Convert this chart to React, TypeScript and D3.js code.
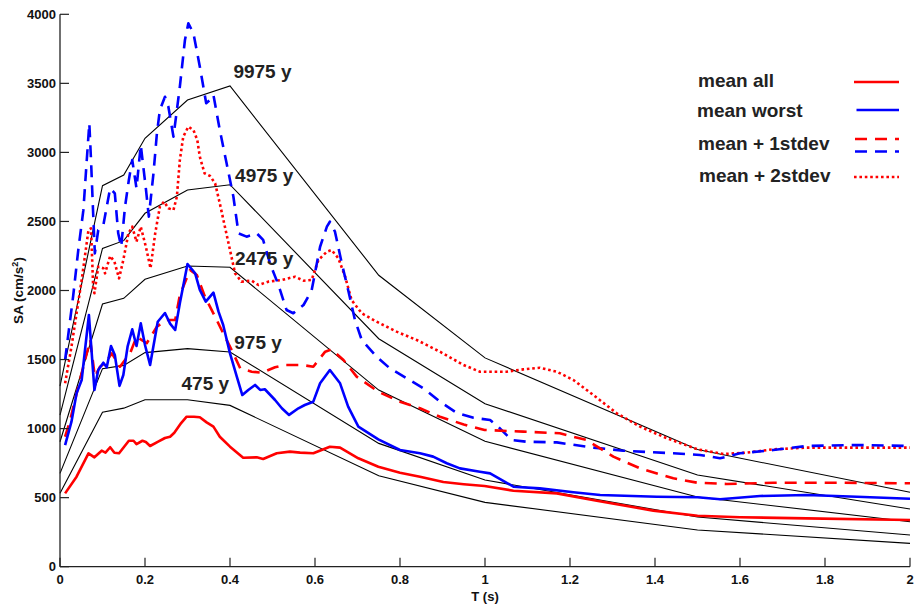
import React from "react";
import * as d3 from "d3";

// ---- Hazard (uniform hazard spectra) lines ----
const uhsT = [0, 0.1, 0.15, 0.2, 0.3, 0.4, 0.75, 1.0, 1.5, 2.0];
const uhs475 = [531, 1118, 1148, 1209, 1209, 1168, 659, 466, 266, 169];
const uhs975 = [676, 1434, 1458, 1550, 1579, 1555, 893, 628, 360, 229];
const uhs2475 = [905, 1902, 1943, 2081, 2177, 2168, 1279, 908, 505, 326];
const uhs4975 = [1098, 2305, 2361, 2559, 2728, 2766, 1651, 1180, 664, 418];
const uhs9975 = [1308, 2759, 2836, 3102, 3379, 3481, 2110, 1512, 848, 539];
const uhsLabels = ["475 y", "975 y", "2475 y", "4975 y", "9975 y"];

// ---- mean all (red solid) ----
const meanAllT = [0.012, 0.039, 0.067, 0.081, 0.098, 0.107, 0.118, 0.128, 0.139, 0.162, 0.173, 0.18, 0.194, 0.202, 0.212, 0.231, 0.247, 0.259, 0.269, 0.285, 0.298, 0.315, 0.329, 0.345, 0.361, 0.376, 0.4, 0.431, 0.463, 0.478, 0.51, 0.541, 0.565, 0.596, 0.635, 0.659, 0.702, 0.749, 0.8, 0.847, 0.902, 0.95, 0.999, 1.067, 1.169, 1.263, 1.396, 1.5, 1.6, 1.757, 2.0];
const meanAllSA = [531, 652, 821, 792, 840, 826, 865, 825, 821, 912, 912, 888, 912, 903, 874, 905, 932, 941, 970, 1040, 1086, 1086, 1082, 1045, 1014, 941, 869, 789, 792, 780, 821, 833, 826, 821, 869, 862, 785, 724, 681, 652, 613, 597, 584, 550, 531, 478, 406, 369, 358, 350, 338];

// ---- mean worst (blue solid) ----
const meanWorstT = [0.012, 0.027, 0.039, 0.051, 0.068, 0.081, 0.09, 0.102, 0.11, 0.12, 0.129, 0.14, 0.149, 0.159, 0.17, 0.18, 0.19, 0.2, 0.212, 0.23, 0.247, 0.259, 0.271, 0.282, 0.3, 0.318, 0.329, 0.343, 0.361, 0.373, 0.384, 0.4, 0.416, 0.429, 0.443, 0.459, 0.471, 0.482, 0.506, 0.522, 0.539, 0.561, 0.576, 0.596, 0.612, 0.635, 0.659, 0.678, 0.702, 0.749, 0.8, 0.847, 0.878, 0.91, 0.941, 0.988, 1.012, 1.067, 1.129, 1.208, 1.271, 1.404, 1.5, 1.553, 1.647, 1.757, 1.875, 2.0];
const meanWorstSA = [881, 1050, 1256, 1352, 1823, 1280, 1424, 1477, 1444, 1598, 1533, 1309, 1388, 1593, 1719, 1598, 1762, 1605, 1461, 1774, 1837, 1760, 1714, 1907, 2192, 2124, 2004, 1919, 1984, 1847, 1750, 1545, 1376, 1243, 1280, 1316, 1280, 1285, 1207, 1147, 1099, 1147, 1171, 1195, 1328, 1424, 1328, 1159, 1014, 922, 845, 821, 797, 749, 712, 688, 676, 579, 567, 539, 519, 507, 503, 488, 512, 519, 507, 492];

// ---- mean all + 1 stdev (red dashed) ----
const meanAll1sT = [0.012, 0.024, 0.045, 0.071, 0.082, 0.094, 0.106, 0.122, 0.141, 0.165, 0.18, 0.204, 0.228, 0.251, 0.271, 0.282, 0.306, 0.322, 0.341, 0.365, 0.384, 0.404, 0.424, 0.451, 0.475, 0.506, 0.529, 0.569, 0.596, 0.624, 0.639, 0.667, 0.698, 0.749, 0.8, 0.847, 0.894, 0.95, 0.999, 1.09, 1.176, 1.239, 1.302, 1.365, 1.443, 1.5, 1.569, 1.678, 1.835, 2.0];
const meanAll1sSA = [941, 1062, 1330, 1641, 1376, 1448, 1473, 1545, 1448, 1545, 1665, 1618, 1738, 1786, 1786, 1967, 2148, 2112, 1955, 1810, 1690, 1569, 1437, 1412, 1405, 1444, 1461, 1461, 1448, 1557, 1574, 1497, 1376, 1267, 1195, 1147, 1086, 1030, 990, 978, 966, 917, 797, 712, 640, 608, 599, 608, 608, 604];

// ---- mean worst + 1 stdev (blue dashed) ----
const meanWorst1sT = [0.012, 0.031, 0.043, 0.055, 0.063, 0.069, 0.073, 0.078, 0.082, 0.09, 0.102, 0.118, 0.129, 0.137, 0.144, 0.153, 0.162, 0.17, 0.18, 0.19, 0.202, 0.209, 0.22, 0.228, 0.235, 0.247, 0.255, 0.267, 0.282, 0.294, 0.302, 0.314, 0.329, 0.344, 0.353, 0.361, 0.376, 0.392, 0.408, 0.42, 0.439, 0.463, 0.478, 0.494, 0.514, 0.533, 0.549, 0.573, 0.592, 0.612, 0.628, 0.635, 0.647, 0.663, 0.678, 0.694, 0.71, 0.745, 0.776, 0.816, 0.855, 0.894, 0.933, 0.973, 1.012, 1.031, 1.063, 1.098, 1.169, 1.247, 1.325, 1.443, 1.506, 1.553, 1.6, 1.678, 1.757, 1.875, 2.0];
const meanWorst1sSA = [1497, 1960, 2293, 2582, 2945, 3211, 2945, 2559, 2269, 2438, 2474, 2740, 2704, 2414, 2317, 2607, 2800, 2945, 2740, 3054, 2740, 2535, 2849, 3138, 3307, 3403, 3331, 3114, 3476, 3814, 3935, 3862, 3621, 3356, 3380, 3416, 3162, 2921, 2679, 2414, 2390, 2414, 2366, 2197, 2040, 1859, 1835, 1895, 2000, 2317, 2462, 2498, 2426, 2197, 2004, 1786, 1642, 1521, 1437, 1364, 1292, 1195, 1115, 1078, 1062, 1014, 917, 905, 900, 865, 840, 821, 809, 785, 821, 845, 874, 881, 874];

// ---- mean all + 2 stdev (red dotted) ----
const meanAll2sT = [0.012, 0.027, 0.039, 0.051, 0.067, 0.073, 0.078, 0.081, 0.09, 0.102, 0.106, 0.118, 0.128, 0.139, 0.149, 0.161, 0.17, 0.18, 0.19, 0.202, 0.213, 0.224, 0.235, 0.245, 0.255, 0.267, 0.275, 0.282, 0.29, 0.302, 0.314, 0.323, 0.329, 0.34, 0.353, 0.365, 0.376, 0.388, 0.4, 0.412, 0.427, 0.451, 0.467, 0.49, 0.522, 0.553, 0.573, 0.592, 0.608, 0.628, 0.639, 0.655, 0.671, 0.686, 0.71, 0.745, 0.792, 0.839, 0.894, 0.949, 0.988, 1.051, 1.09, 1.129, 1.169, 1.208, 1.255, 1.31, 1.365, 1.428, 1.5, 1.561, 1.616, 1.678, 1.757, 1.875, 2.0];
const meanAll2sSA = [1328, 1593, 1835, 2076, 2438, 2450, 2028, 1980, 2172, 2161, 2124, 2250, 2209, 2088, 2221, 2414, 2462, 2353, 2462, 2317, 2161, 2414, 2607, 2643, 2595, 2583, 2679, 2945, 3114, 3186, 3162, 3090, 2969, 2849, 2829, 2776, 2631, 2462, 2293, 2124, 2064, 2071, 2040, 2064, 2076, 2100, 2071, 2076, 2221, 2281, 2293, 2233, 2100, 1931, 1835, 1774, 1702, 1642, 1557, 1461, 1412, 1412, 1429, 1441, 1412, 1352, 1243, 1111, 1014, 930, 850, 816, 826, 850, 862, 862, 862];

// ---- axis ticks & legend ----
const xTicks = [0, 0.2, 0.4, 0.6, 0.8, 1, 1.2, 1.4, 1.6, 1.8, 2];
const yTicks = [0, 500, 1000, 1500, 2000, 2500, 3000, 3500, 4000];
const legendLabels = ["mean all", "mean worst", "mean + 1stdev", "mean + 2stdev"];

const W = 915;
const H = 604;
const M = { left: 60, right: 5, top: 14.3, bottom: 37.3 };
const FONT = "'Liberation Sans', Arial, Helvetica, sans-serif";

export default function App() {
  const x = d3.scaleLinear().domain([0, 2]).range([M.left, W - M.right]);
  const y = d3.scaleLinear().domain([0, 4000]).range([H - M.bottom, M.top]);
  const line = d3
    .line<[number, number]>()
    .x((d) => x(d[0]))
    .y((d) => y(d[1]));
  const zip = (ts: number[], vs: number[]) =>
    ts.map((t, i) => [t, vs[i]] as [number, number]);

  const uhs = [uhs475, uhs975, uhs2475, uhs4975, uhs9975];
  const labelT = [0.286, 0.41, 0.412, 0.412, 0.408];
  const labelY = [390, 349, 265, 182, 78];

  const series = [
    { d: zip(meanAll2sT, meanAll2sSA), c: "#ff0000", dash: "2.6,2.8" },
    { d: zip(meanWorst1sT, meanWorst1sSA), c: "#0000ff", dash: "12,8" },
    { d: zip(meanAll1sT, meanAll1sSA), c: "#ff0000", dash: "12,8" },
    { d: zip(meanAllT, meanAllSA), c: "#ff0000", dash: undefined },
    { d: zip(meanWorstT, meanWorstSA), c: "#0000ff", dash: undefined },
  ];

  const legendY = [87, 117, 150, 182];
  const legendX = [698, 697, 698, 699];

  return (
    <svg width={W} height={H} style={{ display: "block", position: "absolute", left: 0, top: 0 }} fontFamily={FONT}>
      <rect width={W} height={H} fill="#fff" />
      {uhs.map((v, i) => (
        <path key={"u" + i} d={line(zip(uhsT, v)) || ""} fill="none" stroke="#000" strokeWidth={1.1} />
      ))}
      {series.map((s, i) => (
        <path
          key={"s" + i}
          d={line(s.d) || ""}
          fill="none"
          stroke={s.c}
          strokeWidth={2.6}
          strokeDasharray={s.dash}
          strokeLinejoin="round"
        />
      ))}
      {uhsLabels.map((l, i) => (
        <text key={"l" + i} x={x(labelT[i])} y={labelY[i]} fontSize={19} fontWeight="bold" fill="#222">
          {l}
        </text>
      ))}
      <line x1={M.left} x2={M.left} y1={y(4000)} y2={y(0)} stroke="#222" strokeWidth={1.3} />
      <line x1={M.left} x2={x(2)} y1={y(0)} y2={y(0)} stroke="#222" strokeWidth={1.3} />
      {yTicks.map((t) => (
        <g key={"yt" + t}>
          <line x1={M.left} x2={M.left + 9} y1={y(t)} y2={y(t)} stroke="#222" strokeWidth={1.2} />
          <text x={M.left - 4} y={y(t)} dy="0.36em" textAnchor="end" fontSize={13} fontWeight="bold" fill="#111">
            {t}
          </text>
        </g>
      ))}
      {xTicks.map((t) => (
        <g key={"xt" + t}>
          <line x1={x(t)} x2={x(t)} y1={y(0)} y2={y(0) - 9} stroke="#222" strokeWidth={1.2} />
          <text x={x(t)} y={y(0) + 17.5} textAnchor="middle" fontSize={13} fontWeight="bold" fill="#111">
            {String(+t.toFixed(1))}
          </text>
        </g>
      ))}
      <text x={x(1)} y={601} textAnchor="middle" fontSize={13} fontWeight="bold" fill="#111">
        T (s)
      </text>
      <text
        transform={`translate(22.5, ${(y(0) + y(4000)) / 2}) rotate(-90)`}
        textAnchor="middle"
        fontSize={13.5}
        fontWeight="bold"
        fill="#111"
      >
        SA (cm/s
        <tspan fontSize={9} dy={-5}>2</tspan>
        <tspan dy={5}>)</tspan>
      </text>
      {legendLabels.map((l, i) => (
        <text key={"lg" + i} x={legendX[i]} y={legendY[i]} fontSize={19} fontWeight="bold" fill="#222">
          {l}
        </text>
      ))}
      <line x1={854} x2={899} y1={82} y2={82} stroke="#ff0000" strokeWidth={2.6} />
      <line x1={856.5} x2={899} y1={110} y2={110} stroke="#0000ff" strokeWidth={2.6} />
      <line x1={855} x2={899} y1={139} y2={139} stroke="#ff0000" strokeWidth={2.6} strokeDasharray="12,8" />
      <line x1={855} x2={899} y1={151.5} y2={151.5} stroke="#0000ff" strokeWidth={2.6} strokeDasharray="12,8" />
      <line x1={854} x2={899} y1={177} y2={177} stroke="#ff0000" strokeWidth={2.6} strokeDasharray="2.6,2.8" />
    </svg>
  );
}
